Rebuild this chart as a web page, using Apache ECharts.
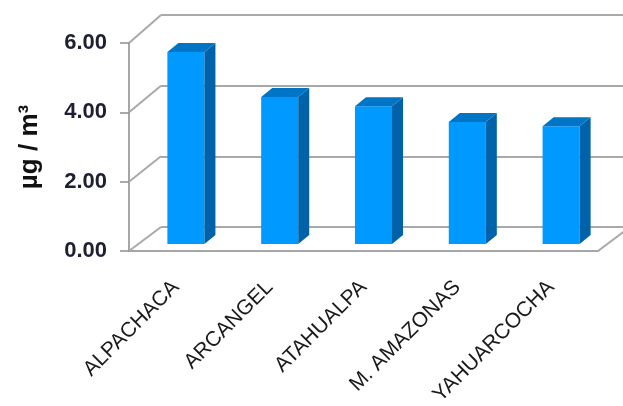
<!DOCTYPE html>
<html>
<head>
<meta charset="utf-8">
<script src="https://cdn.jsdelivr.net/npm/echarts@6/dist/echarts.min.js"></script>
<style>
html,body{margin:0;padding:0;background:#fff;}
#chart{width:623px;height:406px;}
</style>
</head>
<body>
<div id="chart"></div>
<script>
// ---- data ----
const categories = ['ALPACHACA', 'ARCANGEL', 'ATAHUALPA', 'M. AMAZONAS', 'YAHUARCOCHA'];
const values = [5.54, 4.24, 3.97, 3.52, 3.40];
const yTicks = [0, 2, 4, 6];
const yTickLabels = ['0.00', '2.00', '4.00', '6.00'];
const yAxisName = 'µg / m³';

// ---- style constants (3D look) ----
const WALL_DX = 32;                       // depth of the box, x
const wallDY = v => -24 - v * 4 / 6;      // depth of the box, y (slight perspective)
const BAR_OFF_X = 10, BAR_OFF_Y = -7;     // bar front face position inside the box
const BAR_DX = 11, BAR_DY = -9;           // bar depth
const GRID_COLOR = '#a9a9a9';
const FONT = 'Liberation Sans';

const chart = echarts.init(document.getElementById('chart'), null, {renderer: 'canvas'});

const option = {
  animation: false,
  backgroundColor: '#ffffff',
  textStyle: {fontFamily: FONT},
  grid: [
    {left: 129, top: 43, width: 469, height: 208, containLabel: false, outerBoundsMode: 'none'},
    {left: 161, top: 15, width: 469, height: 212, containLabel: false, outerBoundsMode: 'none'}
  ],
  xAxis: [
    {
      type: 'category', gridIndex: 0, data: categories,
      axisLine: {lineStyle: {color: '#a6a6a6', width: 2}},
      axisTick: {length: 10, lineStyle: {color: '#8f8f8f', width: 1.5}},
      axisLabel: {
        rotate: 45, margin: 33, verticalAlign: 'middle', interval: 0,
        fontSize: 21, color: '#1a1a1a', fontFamily: FONT
      },
      splitLine: {show: false}
    },
    {
      type: 'category', gridIndex: 1, data: categories,
      axisLine: {show: false}, axisTick: {show: false}, axisLabel: {show: false},
      splitLine: {show: false}
    }
  ],
  yAxis: [
    {
      type: 'value', gridIndex: 0,
      min: yTicks[0], max: yTicks[yTicks.length - 1], interval: yTicks[1] - yTicks[0],
      axisLine: {show: true, lineStyle: {color: '#a6a6a6', width: 2}},
      axisTick: {show: true, length: 9, lineStyle: {color: '#8f8f8f', width: 1.5}},
      splitLine: {show: false},
      axisLabel: {
        margin: 22, fontSize: 22, fontWeight: 'bold', color: '#1e1e34', fontFamily: FONT,
        formatter: v => yTickLabels[yTicks.indexOf(v)]
      },
      name: yAxisName, nameLocation: 'middle', nameRotate: 90, nameGap: 86,
      nameTextStyle: {fontSize: 26, fontWeight: 'bold', color: '#111111', fontFamily: FONT}
    },
    {
      type: 'value', gridIndex: 1,
      min: yTicks[0], max: yTicks[yTicks.length - 1], interval: yTicks[1] - yTicks[0],
      axisLine: {show: false}, axisTick: {show: false}, axisLabel: {show: false},
      splitLine: {show: true, lineStyle: {color: GRID_COLOR, width: 2}}
    }
  ],
  series: [
    {
      type: 'custom', name: 'walls', xAxisIndex: 0, yAxisIndex: 0, silent: true, z: 1,
      data: [[0, 0]],
      encode: {x: 0, y: 1},
      renderItem: function (params, api) {
        const cs = params.coordSys;
        const children = [];
        yTicks.forEach(function (v) {
          const y = api.coord([0, v])[1];
          children.push({
            type: 'line',
            shape: {x1: cs.x, y1: y, x2: cs.x + WALL_DX, y2: y + wallDY(v)},
            style: {stroke: GRID_COLOR, lineWidth: 2}
          });
        });
        const y0 = api.coord([0, yTicks[0]])[1];
        children.push({
          type: 'line',
          shape: {x1: cs.x + cs.width, y1: y0, x2: cs.x + cs.width + WALL_DX, y2: y0 + wallDY(yTicks[0])},
          style: {stroke: GRID_COLOR, lineWidth: 2}
        });
        return {type: 'group', children: children};
      }
    },
    {
      type: 'custom', name: 'bars', xAxisIndex: 0, yAxisIndex: 0, z: 3,
      data: values.map((v, i) => [i, v]),
      encode: {x: 0, y: 1},
      renderItem: function (params, api) {
        const i = api.value(0), v = api.value(1);
        const base = api.coord([i, 0]);
        const topP = api.coord([i, v]);
        const bw = api.size([1, 0])[0] * 0.395;
        const L = base[0] - bw / 2 + BAR_OFF_X;
        const R = L + bw;
        const B = base[1] + BAR_OFF_Y;
        const T = topP[1] + BAR_OFF_Y;
        return {
          type: 'group',
          children: [
            {type: 'rect', shape: {x: L, y: T, width: bw, height: B - T}, style: {fill: '#0099ff'}},
            {type: 'polygon', shape: {points: [[R, T], [R + BAR_DX, T + BAR_DY], [R + BAR_DX, B + BAR_DY], [R, B]]}, style: {fill: '#0062a8'}},
            {type: 'polygon', shape: {points: [[L, T], [R, T], [R + BAR_DX, T + BAR_DY], [L + BAR_DX, T + BAR_DY]]}, style: {fill: '#0075c6'}}
          ]
        };
      }
    }
  ]
};
chart.setOption(option);
</script>
</body>
</html>
